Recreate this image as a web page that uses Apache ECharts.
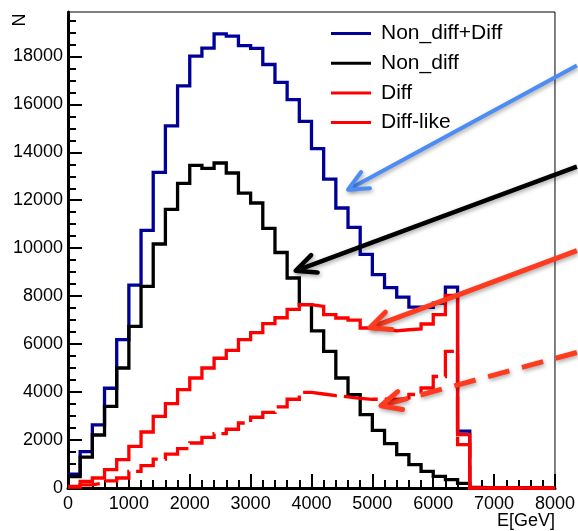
<!DOCTYPE html>
<html>
<head>
<meta charset="utf-8">
<script src="https://cdn.jsdelivr.net/npm/echarts@6/dist/echarts.min.js"></script>
<style>
  html, body { margin: 0; padding: 0; background: #fff; }
  #chart { width: 578px; height: 531px; }
</style>
</head>
<body>
<div id="chart"></div>
<script>
// Energy histograms: 40 bins of 200 GeV from 0 to 8000 GeV
const binLow = 0;
const binWidth = 200;

const nonDiffPlusDiff = [580, 1520, 2630, 4160, 6185, 8460, 10740, 13160, 15100, 16770,
  18010, 18340, 18940, 18840, 18450, 18330, 17660, 16915, 16195, 15290,
  14150, 12880, 11676, 10870, 9745, 8900, 8360, 7960, 7540, 7530,
  7710, 8380, 2370, 0, 0, 0, 0, 0, 0, 0];

const nonDiff = [480, 1290, 2210, 3404, 5004, 6740, 8410, 10175, 11620, 12700,
  13455, 13330, 13553, 13135, 12300, 11885, 10830, 9820, 8757, 7644,
  6550, 5697, 4587, 3890, 3057, 2403, 1847, 1389, 972, 694,
  485, 346, 190, 20, 0, 10, 0, 0, 0, 0];

const diff = [67, 275, 417, 763, 1180, 1735, 2335, 2986, 3515, 4099,
  4587, 5004, 5410, 5738, 6184, 6480, 6852, 7100, 7450, 7644,
  7573, 7227, 7089, 7000, 6672, 6630, 6550, 6600, 6630, 6840,
  7227, 8034, 2223, 0, 0, 0, 0, 0, 0, 0];

const diffLike = [40, 130, 210, 300, 417, 693, 930, 1208, 1410, 1640,
  1876, 2110, 2264, 2450, 2710, 2950, 3150, 3380, 3700, 3987,
  3920, 3850, 3800, 3740, 3700, 3700, 3700, 3750, 3900, 4170,
  4650, 5700, 1806, 0, 0, 0, 0, 0, 0, 0];

const seriesNames = ['Non_diff+Diff', 'Non_diff', 'Diff', 'Diff-like'];
const xTickLabels = ['0', '1000', '2000', '3000', '4000', '5000', '6000', '7000', '8000'];
const yTickLabels = ['0', '2000', '4000', '6000', '8000', '10000', '12000', '14000', '16000', '18000'];
const xTitle = 'E[GeV]';
const yTitle = 'N';

// Annotation arrows in data units: tip (E, N) and tail (E, N)
const arrowTips  = [[4600, 12440], [3740, 9060], [4960, 6680], [5140, 3430]];
const arrowTails = [[8360, 17620], [8360, 13400], [8360, 9900], [8360, 5650]];

const yMax = 19850;
const FONT = 'Liberation Sans, Arial, Helvetica, sans-serif';

// histogram counts -> step polyline points along the bin edges
function histPoints(counts) {
  const pts = counts.map((v, i) => [binLow + i * binWidth, v]);
  pts.push([binLow + counts.length * binWidth, counts[counts.length - 1]]);
  return pts;
}

const yMajor = yTickLabels.map(Number);
const yMinor = [];
for (let v = 500; v < yMax; v += 500) if (v % 2000 !== 0) yMinor.push(v);

const chart = echarts.init(document.getElementById('chart'), null, { renderer: 'canvas' });

const lineSeries = (name, data, color, dash) => ({
  name,
  type: 'line',
  step: 'end',
  data: histPoints(data),
  showSymbol: false,
  clip: false,
  color,
  lineStyle: { color, width: 3.3, type: dash || 'solid', cap: 'butt', join: 'miter' },
  emphasis: { disabled: true },
  animation: false
});

chart.setOption({
  animation: false,
  backgroundColor: '#fff',
  grid: {
    left: 68, right: 21, top: 12, bottom: 43,
    show: true, borderColor: '#000', borderWidth: 1, backgroundColor: 'transparent'
  },
  legend: {
    orient: 'vertical',
    left: 331, top: 23,
    padding: 0,
    itemWidth: 40, itemHeight: 3, itemGap: 8.7,
    icon: 'rect',
    selectedMode: false,
    textStyle: { fontSize: 21, fontFamily: FONT, color: '#000', padding: [0, 0, 0, 5], lineHeight: 21 },
    data: seriesNames
  },
  xAxis: {
    type: 'value',
    min: 0, max: 8000, interval: 1000,
    axisLine: { show: true, onZero: false, lineStyle: { color: '#000', width: 3 } },
    axisTick: { show: true, inside: true, length: 14, lineStyle: { color: '#000', width: 2 } },
    minorTick: { show: true, splitNumber: 5, length: 8, lineStyle: { color: '#000', width: 2 } },
    axisLabel: {
      fontSize: 18, fontFamily: FONT, color: '#000', margin: 7,
      formatter: (v) => xTickLabels[Math.round(v / 1000)] || ''
    },
    splitLine: { show: false }
  },
  yAxis: [
    {
      type: 'value',
      min: 0, max: yMax, interval: 2000,
      axisLine: { show: true, onZero: false, lineStyle: { color: '#000', width: 3 } },
      axisTick: { show: true, inside: true, length: 14, customValues: yMajor, lineStyle: { color: '#000', width: 2 } },
      axisLabel: {
        fontSize: 18, fontFamily: FONT, color: '#000', margin: 5,
        customValues: yMajor,
        formatter: (v) => yTickLabels[Math.round(v / 2000)] || ''
      },
      splitLine: { show: false }
    },
    {
      type: 'value',
      position: 'left',
      min: 0, max: yMax, interval: 500,
      axisLine: { show: false },
      axisTick: { show: true, inside: true, length: 8, customValues: yMinor, lineStyle: { color: '#000', width: 2 } },
      axisLabel: { show: false },
      splitLine: { show: false }
    }
  ],
  series: [
    lineSeries(seriesNames[0], nonDiffPlusDiff, '#000099'),
    lineSeries(seriesNames[1], nonDiff, '#000000'),
    lineSeries(seriesNames[2], diff, '#ff0000'),
    lineSeries(seriesNames[3], diffLike, '#ff0000', [34, 7])
  ]
});

// arrows: shaft from tail to tip plus an open chevron head
const arrowStyles = [
  { color: '#4d8cf5', width: 4, dash: null },
  { color: '#000000', width: 4.5, dash: null },
  { color: '#ff3b1f', width: 5, dash: null },
  { color: '#ff3b1f', width: 5, dash: [22, 13] }
];

const graphics = [];
arrowTips.forEach((tipData, i) => {
  const tip = chart.convertToPixel({ gridIndex: 0 }, tipData);
  const tail = chart.convertToPixel({ gridIndex: 0 }, arrowTails[i]);
  const st = arrowStyles[i];
  const ang = Math.atan2(tail[1] - tip[1], tail[0] - tip[0]);
  const headLen = 22, spread = 25 * Math.PI / 180;
  const a1 = [tip[0] + headLen * Math.cos(ang - spread), tip[1] + headLen * Math.sin(ang - spread)];
  const a2 = [tip[0] + headLen * Math.cos(ang + spread), tip[1] + headLen * Math.sin(ang + spread)];
  const shadow = { shadowBlur: 4, shadowOffsetX: 1, shadowOffsetY: 2, shadowColor: 'rgba(0,0,0,0.35)' };
  graphics.push({
    type: 'line', z: 100, silent: true,
    shape: { x1: tail[0], y1: tail[1], x2: tip[0] + 2 * Math.cos(ang), y2: tip[1] + 2 * Math.sin(ang) },
    style: Object.assign({ stroke: st.color, lineWidth: st.width, lineCap: 'butt', lineDash: st.dash || null }, shadow)
  });
  graphics.push({
    type: 'polyline', z: 100, silent: true,
    shape: { points: [a1, tip, a2] },
    style: Object.assign({ stroke: st.color, fill: null, lineWidth: st.width, lineCap: 'round', lineJoin: 'round' }, shadow)
  });
});

// axis titles
const corner = chart.convertToPixel({ gridIndex: 0 }, [8000, 0]);
graphics.push({
  type: 'text', z: 50, silent: true,
  x: 20, y: 20, rotation: Math.PI / 2,
  style: { text: yTitle, fontSize: 18, fontFamily: FONT, fill: '#000', align: 'center', verticalAlign: 'middle' }
});
graphics.push({
  type: 'text', z: 50, silent: true,
  x: corner[0], y: corner[1] + 33,
  style: { text: xTitle, fontSize: 18, fontFamily: FONT, fill: '#000', align: 'right', verticalAlign: 'middle' }
});

chart.setOption({ graphic: graphics });
</script>
</body>
</html>
